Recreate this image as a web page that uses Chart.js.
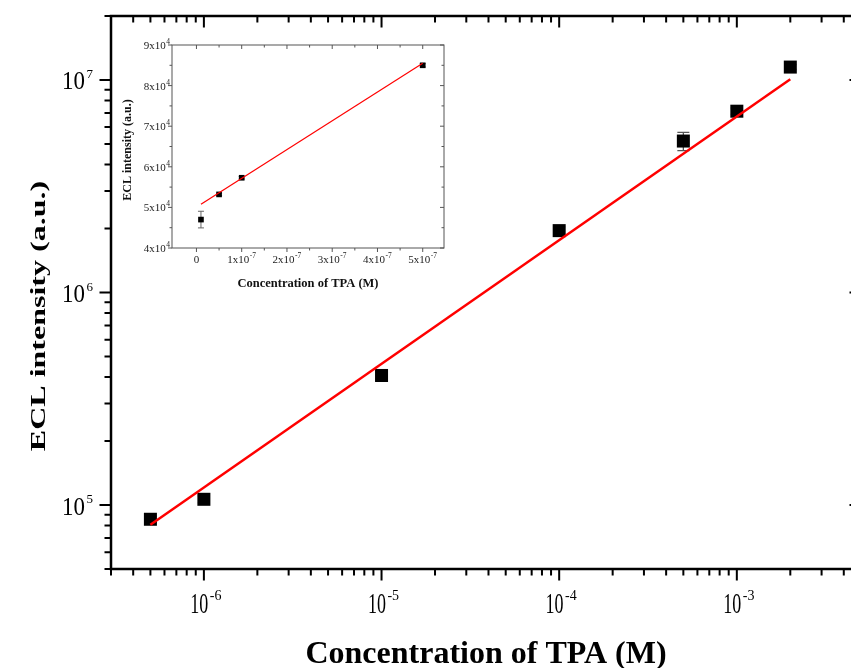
<!DOCTYPE html>
<html>
<head>
<meta charset="utf-8">
<script src="https://cdn.jsdelivr.net/npm/chart.js@4"></script>
<style>
  html, body { margin: 0; padding: 0; background: #fff; overflow: hidden; }
  #wrap { position: relative; width: 851px; height: 668px; overflow: hidden; background: #fff; }
  #main { position: absolute; left: 0; top: 0; }
  #inset { position: absolute; left: 110px; top: 30px; }
</style>
</head>
<body>
<div id="wrap">
  <canvas id="main" width="880" height="668"></canvas>
  <canvas id="inset" width="345" height="270"></canvas>
</div>
<script>
// main plot: ECL intensity vs TPA concentration (log-log)
const concentration = [5e-7, 1e-6, 1e-5, 1e-4, 5e-4, 1e-3, 2e-3];
const eclIntensity = [8.57e4, 1.064e5, 4.07e5, 1.955e6, 5.16e6, 7.13e6, 1.15e7];
const eclError = [3e3, 4e3, 1.5e4, 8e4, 5.1e5, 2.5e5, 3e5];
const fitConc = [5e-7, 2e-3];
const fitEcl = [8.08e4, 1.008e7];
const xTickValues = [1e-6, 1e-5, 1e-4, 1e-3];
const xTickLabels = [['10', '-6'], ['10', '-5'], ['10', '-4'], ['10', '-3']];
const yTickValues = [1e5, 1e6, 1e7];
const yTickLabels = [['10', '5'], ['10', '6'], ['10', '7']];

// inset: low concentration range (linear axes)
const insetConc = [1e-8, 5e-8, 1e-7, 5e-7];
const insetEcl = [4.7e4, 5.32e4, 5.73e4, 8.5e4];
const insetError = [2.05e3, 300, 300, 400];
const insetFitConc = [1e-8, 5e-7];
const insetFitEcl = [5.08e4, 8.55e4];
const insetXTickValues = [0, 1e-7, 2e-7, 3e-7, 4e-7, 5e-7];
const insetXTickLabels = [['0', ''], ['1x10', '-7'], ['2x10', '-7'], ['3x10', '-7'], ['4x10', '-7'], ['5x10', '-7']];
const insetYTickValues = [4e4, 5e4, 6e4, 7e4, 8e4, 9e4];
const insetYTickLabels = [['4x10', '4'], ['5x10', '4'], ['6x10', '4'], ['7x10', '4'], ['8x10', '4'], ['9x10', '4']];

const SERIF = '"Liberation Serif", "Times New Roman", serif';

function toPoints(xs, ys) {
  return xs.map((x, i) => ({ x: x, y: ys[i] }));
}

function logMinorTicks(min, max) {
  const out = [];
  for (let e = Math.floor(Math.log10(min)); e <= Math.ceil(Math.log10(max)); e++) {
    for (let k = 1; k <= 9; k++) {
      const v = k * Math.pow(10, e);
      if (v >= min * 0.999 && v <= max * 1.001) out.push({ v: v, major: k === 1 });
    }
  }
  return out;
}

function linTicks(start, end, step, majorEvery) {
  const out = [];
  const n = Math.round((end - start) / step);
  for (let i = 0; i <= n; i++) out.push({ v: start + i * step, major: i % majorEvery === 0 });
  return out;
}

// "10" followed by a raised exponent
function powText(ctx, base, exp, x, y, o) {
  ctx.save();
  ctx.font = o.baseFont;
  const wb = ctx.measureText(base).width * o.sx;
  ctx.font = o.expFont;
  const we = exp ? ctx.measureText(exp).width : 0;
  const total = wb + (exp ? o.gap + we : 0);
  const left = o.align === 'right' ? x - total : x - total / 2;
  ctx.fillStyle = o.color;
  ctx.textAlign = 'left';
  ctx.textBaseline = 'alphabetic';
  ctx.save();
  ctx.translate(left, y);
  ctx.scale(o.sx, 1);
  ctx.font = o.baseFont;
  ctx.fillText(base, 0, 0);
  ctx.restore();
  if (exp) {
    ctx.font = o.expFont;
    ctx.fillText(exp, left + wb + o.gap, y - o.rise);
  }
  ctx.restore();
}

function errorBars(chart, xs, ys, errs, color, width, cap) {
  const ctx = chart.ctx, xs_ = chart.scales.x, ys_ = chart.scales.y;
  ctx.save();
  ctx.strokeStyle = color;
  ctx.lineWidth = width;
  xs.forEach((x, i) => {
    const px = xs_.getPixelForValue(x);
    const top = ys_.getPixelForValue(ys[i] + errs[i]);
    const bot = ys_.getPixelForValue(ys[i] - errs[i]);
    ctx.beginPath();
    ctx.moveTo(px, top); ctx.lineTo(px, bot);
    ctx.moveTo(px - cap, top); ctx.lineTo(px + cap, top);
    ctx.moveTo(px - cap, bot); ctx.lineTo(px + cap, bot);
    ctx.stroke();
  });
  ctx.restore();
}

function frameAndTicks(chart, xt, yt, f) {
  const ctx = chart.ctx, a = chart.chartArea;
  const sx = chart.scales.x, sy = chart.scales.y;
  ctx.save();
  ctx.strokeStyle = f.color;
  ctx.lineWidth = f.tickWidth;
  ctx.beginPath();
  xt.forEach(t => {
    const px = sx.getPixelForValue(t.v);
    const len = t.major ? f.major : f.minor;
    ctx.moveTo(px, a.bottom); ctx.lineTo(px, a.bottom + len);   // bottom: outward
    ctx.moveTo(px, a.top); ctx.lineTo(px, a.top + len);         // top: inward
  });
  yt.forEach(t => {
    const py = sy.getPixelForValue(t.v);
    const len = t.major ? f.major : f.minor;
    ctx.moveTo(a.left, py); ctx.lineTo(a.left - len, py);       // left: outward
    ctx.moveTo(a.right, py); ctx.lineTo(a.right - len, py);     // right: inward
  });
  ctx.stroke();
  ctx.lineWidth = f.frameWidth;
  ctx.strokeRect(a.left, a.top, a.right - a.left, a.bottom - a.top);
  ctx.restore();
}

const mainDecor = {
  id: 'mainDecor',
  beforeDatasetsDraw(chart) {
    errorBars(chart, concentration, eclIntensity, eclError, '#555', 1.3, 6);
  },
  afterDraw(chart) {
    const ctx = chart.ctx, a = chart.chartArea;
    const sx = chart.scales.x, sy = chart.scales.y;
    frameAndTicks(chart, logMinorTicks(sx.min, sx.max), logMinorTicks(sy.min, sy.max),
      { color: '#000', tickWidth: 2, frameWidth: 2.5, major: 11.5, minor: 6.5 });

    xTickValues.forEach((v, i) => {
      powText(ctx, xTickLabels[i][0], xTickLabels[i][1], sx.getPixelForValue(v) + 2, a.bottom + 44, {
        baseFont: '30px ' + SERIF, expFont: '14px ' + SERIF, sx: 0.6, gap: 1.5, rise: 13,
        align: 'center', color: '#000'
      });
    });
    yTickValues.forEach((v, i) => {
      powText(ctx, yTickLabels[i][0], yTickLabels[i][1], 93, sy.getPixelForValue(v) + 9.5, {
        baseFont: '26px ' + SERIF, expFont: '13px ' + SERIF, sx: 0.88, gap: 1.5, rise: 11.5,
        align: 'right', color: '#000'
      });
    });

    ctx.save();
    ctx.fillStyle = '#000';
    ctx.textAlign = 'center';
    ctx.textBaseline = 'alphabetic';
    ctx.font = 'bold 32px ' + SERIF;
    ctx.fillText('Concentration of TPA (M)', 486, 663);
    ctx.translate(45, 316);
    ctx.rotate(-Math.PI / 2);
    ctx.scale(1, 0.68);
    ctx.font = 'bold 32px ' + SERIF;
    ctx.fillText('ECL intensity (a.u.)', 0, 0);
    ctx.restore();
  }
};

const insetDecor = {
  id: 'insetDecor',
  beforeDatasetsDraw(chart) {
    errorBars(chart, insetConc, insetEcl, insetError, '#666', 1, 3);
  },
  afterDraw(chart) {
    const ctx = chart.ctx, a = chart.chartArea;
    const sx = chart.scales.x, sy = chart.scales.y;
    frameAndTicks(chart, linTicks(0, 5e-7, 0.5e-7, 2), linTicks(4e4, 9e4, 5e3, 2),
      { color: '#555', tickWidth: 1, frameWidth: 1, major: 4, minor: 2.5 });

    insetXTickValues.forEach((v, i) => {
      powText(ctx, insetXTickLabels[i][0], insetXTickLabels[i][1], sx.getPixelForValue(v), a.bottom + 15, {
        baseFont: '11px ' + SERIF, expFont: '7.5px ' + SERIF, sx: 1, gap: 0.5, rise: 5,
        align: 'center', color: '#222'
      });
    });
    insetYTickValues.forEach((v, i) => {
      powText(ctx, insetYTickLabels[i][0], insetYTickLabels[i][1], a.left - 2, sy.getPixelForValue(v) + 4, {
        baseFont: '11px ' + SERIF, expFont: '7.5px ' + SERIF, sx: 1, gap: 0.5, rise: 5,
        align: 'right', color: '#222'
      });
    });

    ctx.save();
    ctx.fillStyle = '#111';
    ctx.textAlign = 'center';
    ctx.textBaseline = 'alphabetic';
    ctx.font = 'bold 12.5px ' + SERIF;
    ctx.fillText('Concentration of TPA (M)', (a.left + a.right) / 2, 257);
    ctx.translate(21, 120);
    ctx.rotate(-Math.PI / 2);
    ctx.font = 'bold 12px ' + SERIF;
    ctx.fillText('ECL intensity (a.u.)', 0, 0);
    ctx.restore();
  }
};

const hiddenAxis = { grid: { display: false }, border: { display: false }, ticks: { display: false } };

new Chart(document.getElementById('main').getContext('2d'), {
  type: 'scatter',
  data: {
    datasets: [
      {
        label: 'Fit',
        data: toPoints(fitConc, fitEcl),
        showLine: true,
        borderColor: '#ff0000',
        borderWidth: 2.5,
        pointRadius: 0,
        order: 0
      },
      {
        label: 'ECL',
        data: toPoints(concentration, eclIntensity),
        pointStyle: 'rect',
        pointRadius: 9.2,
        backgroundColor: '#000',
        borderWidth: 0,
        order: 1
      }
    ]
  },
  options: {
    responsive: false,
    devicePixelRatio: 1,
    animation: false,
    layout: { padding: { top: 16, right: 19, left: 0, bottom: 0 } },
    plugins: { legend: { display: false }, tooltip: { enabled: false } },
    scales: {
      x: Object.assign({ type: 'logarithmic', min: 3e-7, max: 5e-3, afterFit(s) { s.height = 99; } }, hiddenAxis),
      y: Object.assign({ type: 'logarithmic', min: 5e4, max: 2e7, afterFit(s) { s.width = 111; } }, hiddenAxis)
    }
  },
  plugins: [mainDecor]
});

new Chart(document.getElementById('inset').getContext('2d'), {
  type: 'scatter',
  data: {
    datasets: [
      {
        label: 'Fit',
        data: toPoints(insetFitConc, insetFitEcl),
        showLine: true,
        borderColor: '#ff0000',
        borderWidth: 1.2,
        pointRadius: 0,
        order: 0
      },
      {
        label: 'ECL',
        data: toPoints(insetConc, insetEcl),
        pointStyle: 'rect',
        pointRadius: 4,
        backgroundColor: '#000',
        borderWidth: 0,
        order: 1
      }
    ]
  },
  options: {
    responsive: false,
    devicePixelRatio: 1,
    animation: false,
    layout: { padding: { top: 15, right: 11, left: 0, bottom: 0 } },
    plugins: { legend: { display: false }, tooltip: { enabled: false } },
    scales: {
      x: Object.assign({ type: 'linear', min: -0.54e-7, max: 5.47e-7, afterFit(s) { s.height = 52; } }, hiddenAxis),
      y: Object.assign({ type: 'linear', min: 4e4, max: 9e4, afterFit(s) { s.width = 62; } }, hiddenAxis)
    }
  },
  plugins: [insetDecor]
});
</script>
</body>
</html>
